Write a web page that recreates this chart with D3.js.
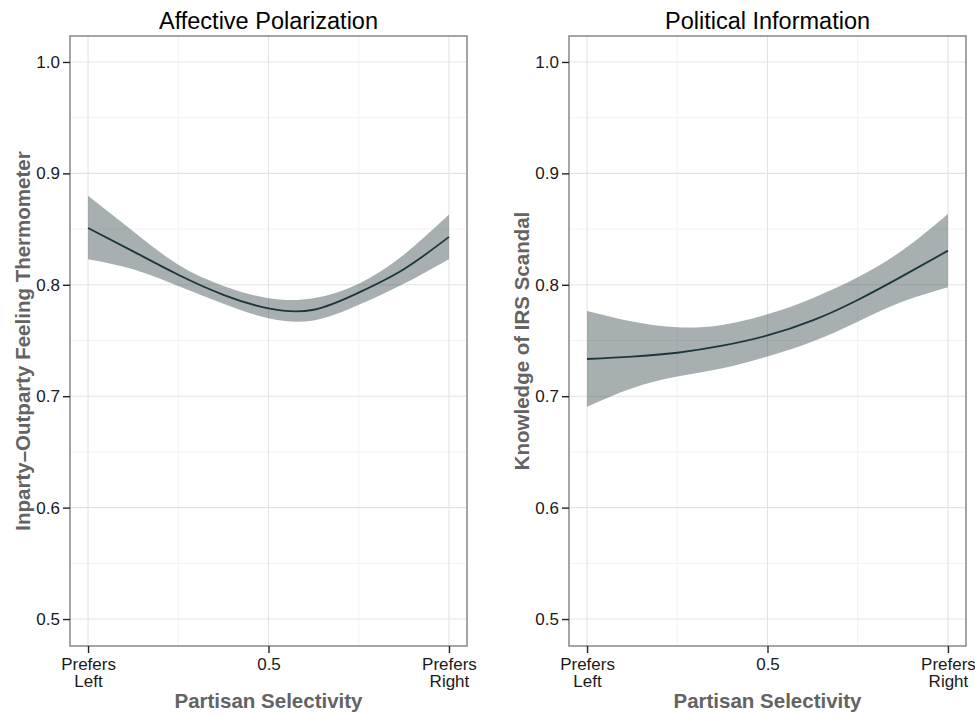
<!DOCTYPE html>
<html>
<head>
<meta charset="utf-8">
<script src="https://cdn.jsdelivr.net/npm/d3@7"></script>
<style>
  body { margin: 0; background: #fff; }
  svg { display: block; font-family: "Liberation Sans", Arial, Helvetica, sans-serif; }
</style>
</head>
<body>
<svg id="chart" width="975" height="716"></svg>
<script>
/*
	Data
*/
var affectX     = [0, 0.125, 0.25, 0.375, 0.5, 0.625, 0.75, 0.875, 1];
var affectFit   = [0.851, 0.830, 0.809, 0.791, 0.7788, 0.7776, 0.793, 0.814, 0.843];
var affectUpper = [0.880, 0.848, 0.818, 0.799, 0.788, 0.788, 0.801, 0.827, 0.863];
var affectLower = [0.823, 0.814, 0.799, 0.783, 0.770, 0.768, 0.782, 0.801, 0.823];

var infoX     = [0, 0.125, 0.25, 0.375, 0.5, 0.625, 0.75, 0.875, 1];
var infoFit   = [0.7334, 0.7355, 0.739, 0.7453, 0.7545, 0.768, 0.7864, 0.808, 0.8306];
var infoUpper = [0.7765, 0.767, 0.7618, 0.764, 0.7735, 0.788, 0.8067, 0.8312, 0.8636];
var infoLower = [0.6906, 0.7071, 0.7176, 0.7251, 0.7357, 0.749, 0.7669, 0.7849, 0.7978];

var yTicks      = [0.5, 0.6, 0.7, 0.8, 0.9, 1.0];
var yMinorTicks = [0.55, 0.65, 0.75, 0.85, 0.95];
var xTicks      = [0, 0.5, 1];
var xMinorTicks = [0.25, 0.75];
var xTickLabels = [["Prefers", "Left"], ["0.5"], ["Prefers", "Right"]];

var panelTitles = ["Affective Polarization", "Political Information"];
var yTitles     = ["Inparty\u2013Outparty Feeling Thermometer", "Knowledge of IRS Scandal"];
var xTitle      = "Partisan Selectivity";

var svg = d3.select("#chart");

// "top" is taken by window.top, so use other names
var panelTop = 36, panelBottom = 646;

function drawPanel(left, right, title, yTitle, xs, fit, upper, lower) {
	var x = d3.scaleLinear().domain([-0.05, 1.05]).range([left, right]);
	var y = d3.scaleLinear().domain([0.4758, 1.0233]).range([panelBottom, panelTop]);

	var g = svg.append("g");

	// minor grid
	g.selectAll(".xminor").data(xMinorTicks).enter().append("line")
		.attr("x1", x).attr("x2", x)
		.attr("y1", panelTop).attr("y2", panelBottom)
		.attr("stroke", "#f2f2f2").attr("stroke-width", 1);
	g.selectAll(".yminor").data(yMinorTicks).enter().append("line")
		.attr("x1", left).attr("x2", right)
		.attr("y1", y).attr("y2", y)
		.attr("stroke", "#f2f2f2").attr("stroke-width", 1);

	// major grid
	g.selectAll(".xmajor").data(xTicks).enter().append("line")
		.attr("x1", x).attr("x2", x)
		.attr("y1", panelTop).attr("y2", panelBottom)
		.attr("stroke", "#e3e3e3").attr("stroke-width", 1.1);
	g.selectAll(".ymajor").data(yTicks).enter().append("line")
		.attr("x1", left).attr("x2", right)
		.attr("y1", y).attr("y2", y)
		.attr("stroke", "#e3e3e3").attr("stroke-width", 1.1);

	var idx = d3.range(xs.length);

	var area = d3.area()
		.x(function(i) { return x(xs[i]); })
		.y0(function(i) { return y(lower[i]); })
		.y1(function(i) { return y(upper[i]); })
		.curve(d3.curveNatural);

	var line = d3.line()
		.x(function(i) { return x(xs[i]); })
		.y(function(i) { return y(fit[i]); })
		.curve(d3.curveNatural);

	g.append("path")
		.datum(idx)
		.attr("d", area)
		.attr("fill", "#3b4d52")
		.attr("fill-opacity", 0.45);

	g.append("path")
		.datum(idx)
		.attr("d", line)
		.attr("fill", "none")
		.attr("stroke", "#1c363c")
		.attr("stroke-width", 1.8);

	// panel border
	g.append("rect")
		.attr("x", left).attr("y", panelTop)
		.attr("width", right - left).attr("height", panelBottom - panelTop)
		.attr("fill", "none")
		.attr("stroke", "#7f7f7f")
		.attr("stroke-width", 1.4);

	// y axis
	var yAxis = g.append("g")
		.attr("transform", "translate(" + left + ",0)")
		.call(d3.axisLeft(y).tickValues(yTicks).tickFormat(d3.format(".1f")).tickSize(7).tickPadding(3));
	yAxis.select(".domain").remove();
	yAxis.selectAll("line").attr("stroke", "#222").attr("stroke-width", 1.4);
	yAxis.selectAll("text")
		.attr("font-size", "17px")
		.attr("font-family", "Liberation Sans, Arial, sans-serif")
		.attr("fill", "#1a1a1a");

	// x axis, two-line tick labels
	var xAxis = g.append("g")
		.attr("transform", "translate(0," + panelBottom + ")")
		.call(d3.axisBottom(x).tickValues(xTicks).tickFormat(function() { return ""; }).tickSize(7).tickPadding(5));
	xAxis.select(".domain").remove();
	xAxis.selectAll("line").attr("stroke", "#222").attr("stroke-width", 1.4);
	xAxis.selectAll(".tick text")
		.attr("font-size", "17px")
		.attr("font-family", "Liberation Sans, Arial, sans-serif")
		.attr("fill", "#1a1a1a")
		.each(function(d, i) {
			var t = d3.select(this);
			xTickLabels[i].forEach(function(s, k) {
				t.append("tspan")
					.attr("x", 0)
					.attr("dy", k === 0 ? null : "1.0em")
					.text(s);
			});
		});

	// titles
	g.append("text")
		.attr("x", (left + right) / 2).attr("y", 29)
		.attr("text-anchor", "middle")
		.attr("font-size", "23.5px")
		.attr("fill", "#000")
		.text(title);

	g.append("text")
		.attr("x", (left + right) / 2).attr("y", 708)
		.attr("text-anchor", "middle")
		.attr("font-size", "20.5px")
		.attr("font-weight", "bold")
		.attr("fill", "#636363")
		.text(xTitle);

	g.append("text")
		.attr("transform", "translate(" + (left - 40) + "," + ((panelTop + panelBottom) / 2) + ") rotate(-90)")
		.attr("text-anchor", "middle")
		.attr("font-size", "20.5px")
		.attr("font-weight", "bold")
		.attr("fill", "#636363")
		.text(yTitle);
}

drawPanel(70, 467, panelTitles[0], yTitles[0], affectX, affectFit, affectUpper, affectLower);
drawPanel(569, 966, panelTitles[1], yTitles[1], infoX, infoFit, infoUpper, infoLower);
</script>
</body>
</html>
